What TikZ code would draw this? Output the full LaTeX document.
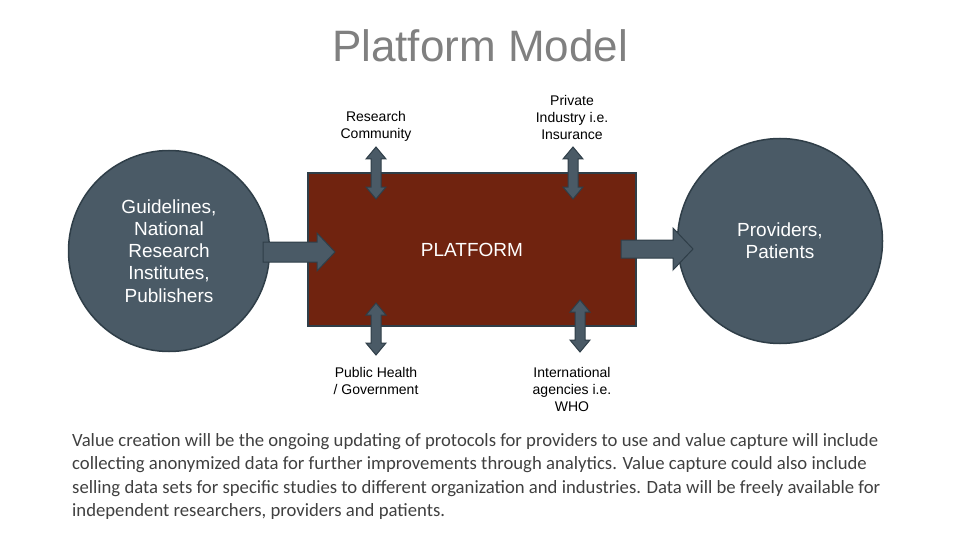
\documentclass[tikz,border=0pt]{standalone}
\usepackage{fontspec}
\setmainfont{Liberation Sans}
\newfontfamily\bodyfont{Carlito}
\newfontfamily\titlefont{Liberation Sans}
\definecolor{slate}{HTML}{4A5A66}
\definecolor{slateedge}{HTML}{2F3E48}
\definecolor{platred}{HTML}{70230F}
\definecolor{titlegray}{HTML}{808080}
\definecolor{bodygray}{HTML}{404040}
\tikzset{
  bubble/.style={circle, fill=slate, draw=slateedge, line width=1.5pt, text=white, align=center, font=\fontsize{19}{22.2}\selectfont},
  platbox/.style={rectangle, fill=platred, draw=slateedge, line width=2.5pt, text=white, font=\fontsize{19}{20}\selectfont},
  blockarrow/.style={fill=slate, draw=slateedge, line width=1pt, line join=miter},
  lbl/.style={align=center, font=\fontsize{14}{17}\selectfont, text=black},
}
\newcommand{\hdarrow}[3]{% x, ytop, ybottom
  \draw[blockarrow] (#1,#2) -- (#1+10,#2+12) -- (#1+5,#2+12) -- (#1+5,#3-12) -- (#1+10,#3-12) -- (#1,#3) -- (#1-10,#3-12) -- (#1-5,#3-12) -- (#1-5,#2+12) -- (#1-10,#2+12) -- cycle;}
\begin{document}
\begin{tikzpicture}[x=1pt,y=-1pt]
\useasboundingbox (0,0) rectangle (960,540);
\node[text=titlegray, font=\titlefont\fontsize{44}{48}\selectfont] (title) at (480,46) {Platform Model};
\node[platbox, minimum width=328, minimum height=153] (plat) at (472,249.5) {PLATFORM};
\node[bubble, minimum size=201] (src) at (169,251) {Guidelines,\\National\\Research\\Institutes,\\Publishers};
\node[bubble, minimum size=205] (dst) at (780,241) {Providers,\\Patients};
% block arrows
\draw[blockarrow] (263,242) -- (317,242) -- (317,233) -- (335,252) -- (317,271) -- (317,262) -- (263,262) -- cycle;
\draw[blockarrow] (621,240) -- (673,240) -- (673,228) -- (693,249) -- (673,270) -- (673,258) -- (621,258) -- cycle;
\hdarrow{376}{147}{199}
\hdarrow{573}{147}{199}
\hdarrow{376}{303}{355}
\hdarrow{580}{300}{352}
% labels
\node[lbl] (rc) at (376,126.5) {Research\\Community};
\node[lbl] (pi) at (572,117) {Private\\Industry i.e.\\Insurance};
\node[lbl] (ph) at (376,380.5) {Public Health\\/ Government};
\node[lbl] (ia) at (572,389) {International\\agencies i.e.\\WHO};
\node[anchor=north west, align=left, text=bodygray, font=\bodyfont\fontsize{18.7}{23.6}\selectfont, inner sep=0pt] (para) at (72,433) {Value creation will be the ongoing updating of protocols for providers to use and value capture will include\\collecting anonymized data for further improvements through analytics. Value capture could also include\\selling data sets for specific studies to different organization and industries. Data will be freely available for\\independent researchers, providers and patients.};
\end{tikzpicture}
\end{document}
